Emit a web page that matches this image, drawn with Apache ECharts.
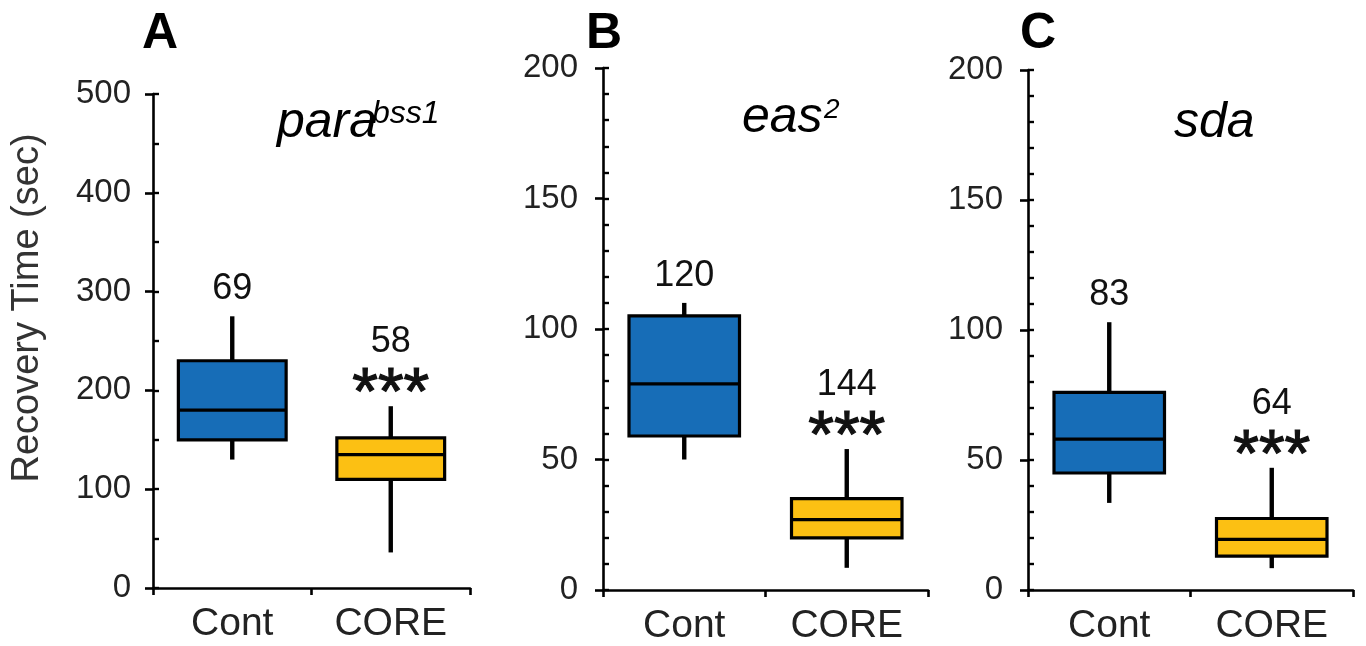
<!DOCTYPE html>
<html>
<head>
<meta charset="utf-8">
<script src="https://cdn.jsdelivr.net/npm/echarts@6/dist/echarts.min.js"></script>
<style>
html,body{margin:0;padding:0;background:#fff;}
#chart{width:1366px;height:646px;}
</style>
</head>
<body>
<div id="chart"></div>
<script>
// ---- data ----
const categories = ['Cont', 'CORE'];
// [min, Q1, median, Q3, max] per category
const paraStats = [[130, 150, 180, 230, 275], [36, 110, 135, 152, 184]];
const easStats  = [[50, 59, 79, 105, 110], [8.5, 20, 27, 35, 54]];
const sdaStats  = [[33.5, 45, 58, 76, 103], [8.4, 13, 19.5, 27.5, 47]];
const paraN = ['69', '58'];
const easN  = ['120', '144'];
const sdaN  = ['83', '64'];
const signif = ['', '***'];
const panelLetters = ['A', 'B', 'C'];
const yMaxes = [500, 200, 200];
const yMajor = [100, 50, 50];
const yMinor = [50, 10, 10];

const FONT = '"Liberation Sans", Arial, sans-serif';
const BLUE = '#176db7';
const YELLOW = '#fcc013';
const boxColors = [BLUE, YELLOW];

const grids = [
  {left: 153, right: 896, top: 94, bottom: 58},
  {left: 603, right: 438, top: 68, bottom: 56},
  {left: 1028, right: 13, top: 70, bottom: 53}
];

function renderBox(params, api) {
  const c = api.value(0);
  const pMin = api.coord([c, api.value(1)]);
  const pQ1 = api.coord([c, api.value(2)]);
  const pMed = api.coord([c, api.value(3)]);
  const pQ3 = api.coord([c, api.value(4)]);
  const pMax = api.coord([c, api.value(5)]);
  const cx = pMed[0];
  const w = api.size([1, 0])[0] * 0.68;
  const nText = params.seriesName.split('|')[c];
  const star = signif[c];
  const children = [
    {type: 'line', shape: {x1: cx, y1: pMax[1], x2: cx, y2: pQ3[1]}, style: {stroke: '#000', lineWidth: 4.4}},
    {type: 'line', shape: {x1: cx, y1: pQ1[1], x2: cx, y2: pMin[1]}, style: {stroke: '#000', lineWidth: 4.4}},
    {type: 'rect', shape: {x: cx - w / 2, y: pQ3[1], width: w, height: pQ1[1] - pQ3[1]},
      style: {fill: boxColors[c], stroke: '#000', lineWidth: 3.2}},
    {type: 'line', shape: {x1: cx - w / 2, y1: pMed[1], x2: cx + w / 2, y2: pMed[1]}, style: {stroke: '#000', lineWidth: 3.2}}
  ];
  if (star) {
    children.push({type: 'text', style: {text: star, x: cx, y: pMax[1] - 24 + 14, align: 'center', verticalAlign: 'middle',
      font: '66px ' + FONT, fill: '#111', stroke: '#111', lineWidth: 1.2}});
    children.push({type: 'text', style: {text: nText, x: cx, y: pMax[1] - 64, align: 'center', verticalAlign: 'middle',
      font: '36px ' + FONT, fill: '#111'}});
  } else {
    children.push({type: 'text', style: {text: nText, x: cx, y: pMax[1] - 27, align: 'center', verticalAlign: 'middle',
      font: '36px ' + FONT, fill: '#111'}});
  }
  return {type: 'group', children: children};
}

const allStats = [paraStats, easStats, sdaStats];
const allN = [paraN, easN, sdaN];

const xAxes = [], yAxes = [], series = [];
grids.forEach((g, i) => {
  xAxes.push({
    type: 'category', gridIndex: i, data: categories, boundaryGap: true,
    axisLine: {lineStyle: {color: '#000', width: 2.6}},
    axisTick: {show: true, length: 7, lineStyle: {color: '#000', width: 2.6}},
    axisLabel: {fontFamily: FONT, fontSize: 39, color: '#222', margin: 17, lineHeight: 39},
    splitLine: {show: false}
  });
  yAxes.push({
    type: 'value', gridIndex: i, min: 0, max: yMaxes[i], interval: yMajor[i], position: 'left',
    axisLine: {show: true, lineStyle: {color: '#000', width: 2.6}},
    axisTick: {show: true, length: 8, lineStyle: {color: '#000', width: 2.6}},
    axisLabel: {fontFamily: FONT, fontSize: 33, color: '#222', margin: i === 0 ? 22 : 25},
    splitLine: {show: false}
  });
  yAxes.push({
    type: 'value', gridIndex: i, min: 0, max: yMaxes[i], interval: yMinor[i], position: 'left', offset: 0,
    axisLine: {show: false},
    axisTick: {show: true, inside: true, length: 6, lineStyle: {color: '#000', width: 2.4}},
    axisLabel: {show: false},
    splitLine: {show: false}
  });
  series.push({
    type: 'custom', name: allN[i].join('|'), xAxisIndex: i, yAxisIndex: i * 2,
    renderItem: renderBox,
    encode: {x: 0, y: [1, 2, 3, 4, 5]},
    data: allStats[i].map((s, k) => [k].concat(s)),
    z: 5
  });
});

const letterX = [160, 604, 1038];
const graphics = [];
panelLetters.forEach((L, i) => {
  graphics.push({type: 'text', x: letterX[i], y: 34, style: {text: L, align: 'center', verticalAlign: 'middle',
    font: 'bold 50px ' + FONT, fill: '#000'}});
});
// gene titles (italic, with superscripts)
graphics.push({type: 'text', x: 277, y: 148, style: {text: 'para', align: 'left', verticalAlign: 'bottom', font: 'italic 50px ' + FONT, fill: '#000'}});
graphics.push({type: 'text', x: 372, y: 130, style: {text: 'bss1', align: 'left', verticalAlign: 'bottom', font: 'italic 32px ' + FONT, fill: '#000'}});
graphics.push({type: 'text', x: 742, y: 143, style: {text: 'eas', align: 'left', verticalAlign: 'bottom', font: 'italic 50px ' + FONT, fill: '#000'}});
graphics.push({type: 'text', x: 824, y: 124, style: {text: '2', align: 'left', verticalAlign: 'bottom', font: 'italic 28px ' + FONT, fill: '#000'}});
graphics.push({type: 'text', x: 1174, y: 148, style: {text: 'sda', align: 'left', verticalAlign: 'bottom', font: 'italic 50px ' + FONT, fill: '#000'}});
// y axis name
graphics.push({type: 'text', x: 28, y: 308, rotation: Math.PI / 2, style: {text: 'Recovery Time (sec)', align: 'center', verticalAlign: 'middle',
  font: '38px ' + FONT, fill: '#333'}});

const chart = echarts.init(document.getElementById('chart'), null, {renderer: 'canvas'});
chart.setOption({
  animation: false,
  backgroundColor: '#fff',
  grid: grids,
  xAxis: xAxes,
  yAxis: yAxes,
  series: series,
  graphic: graphics
});
</script>
</body>
</html>
